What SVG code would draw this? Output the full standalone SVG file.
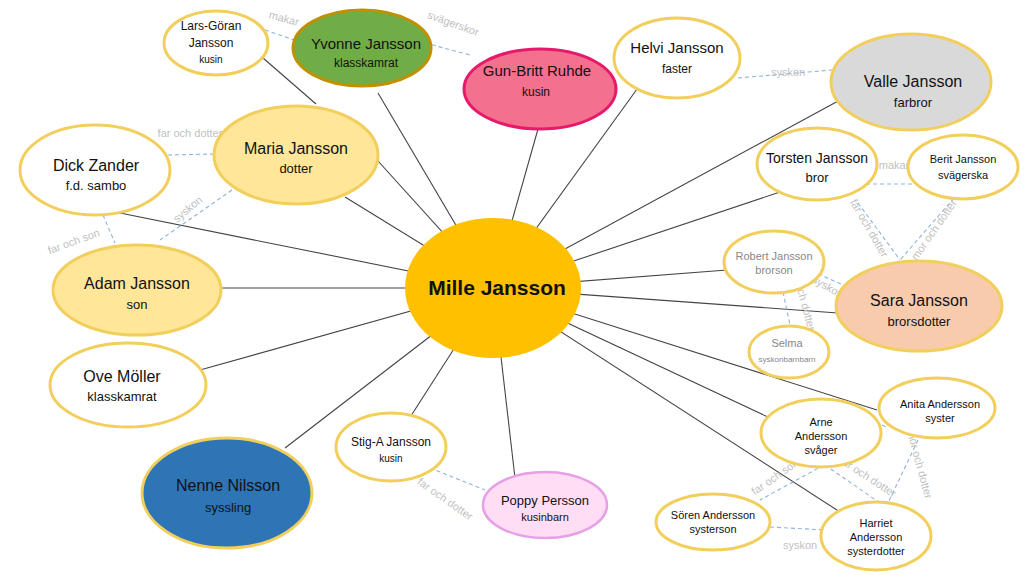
<svg xmlns="http://www.w3.org/2000/svg" width="1024" height="575" viewBox="0 0 1024 575">
<style>
text{font-family:"Liberation Sans","Open Sans",sans-serif;text-anchor:middle;fill:#111}
.n{stroke:#F2CF5C;stroke-width:3}
.c line{stroke:#444;stroke-width:1.1}
.d line{stroke:#8FB4DA;stroke-width:1.1;stroke-dasharray:4 3}
.r{fill:#BFBFBF;font-size:11px}
.g{fill:#888}
</style>
<rect width="1024" height="575" fill="#fff"/>
<g class="c" id="connectors">
<line x1="263" y1="58" x2="316" y2="104"/>
<line x1="345" y1="197" x2="493" y2="288"/>
<line x1="378" y1="161" x2="493" y2="288"/>
<line x1="378" y1="93" x2="493" y2="288"/>
<line x1="115" y1="212" x2="493" y2="288"/>
<line x1="215" y1="288" x2="493" y2="288"/>
<line x1="200" y1="370" x2="493" y2="288"/>
<line x1="285" y1="448" x2="493" y2="288"/>
<line x1="391" y1="447" x2="493" y2="288"/>
<line x1="515" y1="478" x2="493" y2="288"/>
<line x1="538" y1="129" x2="493" y2="288"/>
<line x1="640" y1="85" x2="493" y2="288"/>
<line x1="840" y1="100" x2="493" y2="288"/>
<line x1="780" y1="192" x2="493" y2="288"/>
<line x1="727" y1="270" x2="493" y2="288"/>
<line x1="838" y1="313" x2="493" y2="288"/>
<line x1="877" y1="410" x2="493" y2="288"/>
<line x1="770" y1="418" x2="493" y2="288"/>
<line x1="840" y1="512" x2="493" y2="288"/>
</g>
<g class="d" id="relations">
<line x1="265" y1="30" x2="300" y2="42"/>
<line x1="425" y1="43" x2="470" y2="55"/>
<line x1="168" y1="155" x2="215" y2="154"/>
<line x1="103" y1="215" x2="115" y2="243"/>
<line x1="232" y1="190" x2="160" y2="240"/>
<line x1="738" y1="78" x2="832" y2="70"/>
<line x1="866" y1="184" x2="912" y2="184"/>
<line x1="858" y1="203" x2="900" y2="260"/>
<line x1="954" y1="198" x2="900" y2="260"/>
<line x1="818" y1="274" x2="848" y2="287"/>
<line x1="783" y1="292" x2="790" y2="325"/>
<line x1="430" y1="468" x2="485" y2="490"/>
<line x1="824" y1="465" x2="760" y2="500"/>
<line x1="825" y1="465" x2="880" y2="503"/>
<line x1="918" y1="440" x2="888" y2="503"/>
<line x1="770" y1="527" x2="825" y2="530"/>
<line x1="882" y1="425" x2="888" y2="428"/>
</g>
<g id="labels">
<text class="r" transform="translate(283,22) rotate(15)">makar</text>
<text class="r" font-size="13" transform="translate(452,27) rotate(20)">svägerskor</text>
<text class="r" x="190" y="137">far och dotter</text>
<text class="r" transform="translate(75,245) rotate(-20)">far och son</text>
<text class="r" transform="translate(190,212) rotate(-40)">syskon</text>
<text class="r" font-size="12" x="788" y="76">syskon</text>
<text class="r" x="894" y="169">makar</text>
<text class="r" transform="translate(866,230) rotate(60)">far och dotter</text>
<text class="r" transform="translate(937,232) rotate(-55)">mor och dotter</text>
<text class="r" transform="translate(826,290) rotate(30)">syskon</text>
<text class="r" font-size="9" transform="translate(800,300) rotate(75)">far och dotter</text>
<text class="r" font-size="10" transform="translate(443,502) rotate(35)">far och dotter</text>
<text class="r" transform="translate(777,480) rotate(-35)">far och son</text>
<text class="r" transform="translate(866,480) rotate(33)">far och dotter</text>
<text class="r" font-size="10" transform="translate(916,465) rotate(75)">mor och dotter</text>
<text class="r" font-size="12" x="800" y="549">syskon</text>
</g>
<g id="mille"><ellipse cx="493" cy="288" rx="88" ry="70" fill="#FFC000"/><text x="497" y="295" font-size="21" font-weight="bold">Mille Jansson</text></g>
<g id="lars"><ellipse class="n" cx="216" cy="43" rx="52" ry="32" fill="#fff"/><text x="211" y="30" font-size="12">Lars-Göran</text><text x="211" y="47" font-size="12">Jansson</text><text x="211" y="63" font-size="10">kusin</text></g>
<g id="yvonne"><ellipse cx="362" cy="48" rx="69" ry="38" fill="#70AD47" stroke="#BF9000" stroke-width="3"/><text x="366" y="49" font-size="15">Yvonne Jansson</text><text x="366" y="67" font-size="12">klasskamrat</text></g>
<g id="gunbritt"><ellipse cx="540" cy="89" rx="76" ry="40" fill="#F4708F" stroke="#E6196A" stroke-width="3"/><text x="537" y="76" font-size="15">Gun-Britt Ruhde</text><text x="536" y="96" font-size="12">kusin</text></g>
<g id="helvi"><ellipse class="n" cx="677" cy="58" rx="63" ry="40" fill="#fff"/><text x="677" y="53" font-size="15">Helvi Jansson</text><text x="677" y="73" font-size="12">faster</text></g>
<g id="valle"><ellipse class="n" cx="911" cy="82" rx="80" ry="48" fill="#D9D9D9"/><text x="913" y="87" font-size="16">Valle Jansson</text><text x="913" y="107" font-size="13">farbror</text></g>
<g id="torsten"><ellipse class="n" cx="817" cy="164" rx="60" ry="36" fill="#fff"/><text x="817" y="163" font-size="14">Torsten Jansson</text><text x="817" y="182" font-size="13">bror</text></g>
<g id="berit"><ellipse class="n" cx="963" cy="167" rx="55" ry="32" fill="#fff"/><text x="963" y="163" font-size="11">Berit Jansson</text><text x="963" y="179" font-size="11">svägerska</text></g>
<g id="robert"><ellipse class="n" cx="774" cy="262" rx="50" ry="31" fill="#fff"/><text class="g" x="774" y="260" font-size="11">Robert Jansson</text><text class="g" x="774" y="274" font-size="11">brorson</text></g>
<g id="sara"><ellipse class="n" cx="919" cy="306" rx="83" ry="45" fill="#F8CBAD"/><text x="919" y="306" font-size="16">Sara Jansson</text><text x="919" y="326" font-size="13">brorsdotter</text></g>
<g id="selma"><ellipse class="n" cx="789" cy="352" rx="40" ry="26" fill="#fff"/><text class="g" x="787" y="347" font-size="11">Selma</text><text x="787" y="362" font-size="8" class="g">syskonbarnbarn</text></g>
<g id="anita"><ellipse class="n" cx="937" cy="408" rx="58" ry="30" fill="#fff"/><text x="940" y="408" font-size="11">Anita Andersson</text><text x="940" y="422" font-size="11">syster</text></g>
<g id="arne"><ellipse class="n" cx="821" cy="433" rx="60" ry="34" fill="#fff"/><text x="821" y="426" font-size="11">Arne</text><text x="821" y="440" font-size="11">Andersson</text><text x="821" y="454" font-size="11">svåger</text></g>
<g id="soren"><ellipse class="n" cx="713" cy="522" rx="57" ry="28" fill="#fff"/><text x="713" y="519" font-size="11">Sören Andersson</text><text x="713" y="533" font-size="11">systerson</text></g>
<g id="harriet"><ellipse class="n" cx="876" cy="536" rx="55" ry="34" fill="#fff"/><text x="876" y="527" font-size="11">Harriet</text><text x="876" y="541" font-size="11">Andersson</text><text x="876" y="555" font-size="11">systerdotter</text></g>
<g id="poppy"><ellipse cx="545" cy="505" rx="62" ry="33" fill="#FFDDF5" stroke="#E6A0E6" stroke-width="2.5"/><text x="545" y="505" font-size="13">Poppy Persson</text><text x="545" y="521" font-size="11">kusinbarn</text></g>
<g id="stiga"><ellipse class="n" cx="391" cy="447" rx="55" ry="34" fill="#fff"/><text x="391" y="446" font-size="12">Stig-A Jansson</text><text x="391" y="462" font-size="10">kusin</text></g>
<g id="nenne"><ellipse class="n" cx="227" cy="493" rx="85" ry="55" fill="#2E75B6"/><text x="228" y="491" font-size="16">Nenne Nilsson</text><text x="228" y="512" font-size="13">syssling</text></g>
<g id="ove"><ellipse class="n" cx="128" cy="385" rx="78" ry="42" fill="#fff"/><text x="122" y="382" font-size="16">Ove Möller</text><text x="122" y="401" font-size="13">klasskamrat</text></g>
<g id="adam"><ellipse class="n" cx="137" cy="290" rx="84" ry="45" fill="#FFE699"/><text x="137" y="289" font-size="16">Adam Jansson</text><text x="137" y="309" font-size="13">son</text></g>
<g id="dick"><ellipse class="n" cx="95" cy="170" rx="75" ry="45" fill="#fff"/><text x="96" y="171" font-size="16">Dick Zander</text><text x="96" y="190" font-size="13">f.d. sambo</text></g>
<g id="maria"><ellipse class="n" cx="296" cy="155" rx="82" ry="49" fill="#FFE699"/><text x="296" y="154" font-size="16">Maria Jansson</text><text x="296" y="173" font-size="13">dotter</text></g>
</svg>
